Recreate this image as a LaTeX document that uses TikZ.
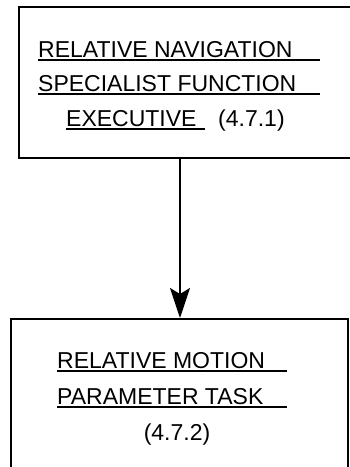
\documentclass[tikz,border=0pt]{standalone}
\usepackage{fontspec}
\setmainfont{Liberation Sans}
\usetikzlibrary{arrows.meta}
\newcommand\ulx[2]{\rlap{\rule[-4pt]{#2}{2pt}}#1}
\tikzset{
  boxnode/.style={draw, line width=2pt, inner sep=0pt, anchor=north west},
  txt/.style={inner sep=0pt, anchor=base west, font=\fontsize{23}{23}\selectfont},
  ctxt/.style={inner sep=0pt, anchor=base, font=\fontsize{23}{23}\selectfont},
  flow/.style={line width=2pt, -{Stealth[length=30pt, width=20pt, inset=6pt]}}
}
\begin{document}
\begin{tikzpicture}[x=1pt, y=-1pt]
\useasboundingbox (0,0) rectangle (350,467);
\node[boxnode, minimum width=334pt, minimum height=151pt] (top) at (18,6) {};
\node[boxnode, minimum width=337pt, minimum height=170pt] (bot) at (10,318) {};
% top box text
\node[txt] (t1) at (38,57) {\ulx{RELATIVE NAVIGATION}{282pt}};
\node[txt] (t2) at (38,91) {\ulx{SPECIALIST FUNCTION}{282pt}};
\node[txt] (t3) at (66,126) {\ulx{EXECUTIVE}{139pt}};
\node[txt] (t4) at (218,126) {(4.7.1)};
% bottom box text
\node[txt] (b1) at (57,368) {\ulx{RELATIVE MOTION}{230pt}};
\node[txt] (b2) at (57,404) {\ulx{PARAMETER TASK}{230pt}};
\node[ctxt] (b3) at (177,440) {(4.7.2)};
% connector
\coordinate (ax) at (180,0);
\draw[flow] (top.south -| ax) -- (bot.north -| ax);
\end{tikzpicture}
\end{document}
